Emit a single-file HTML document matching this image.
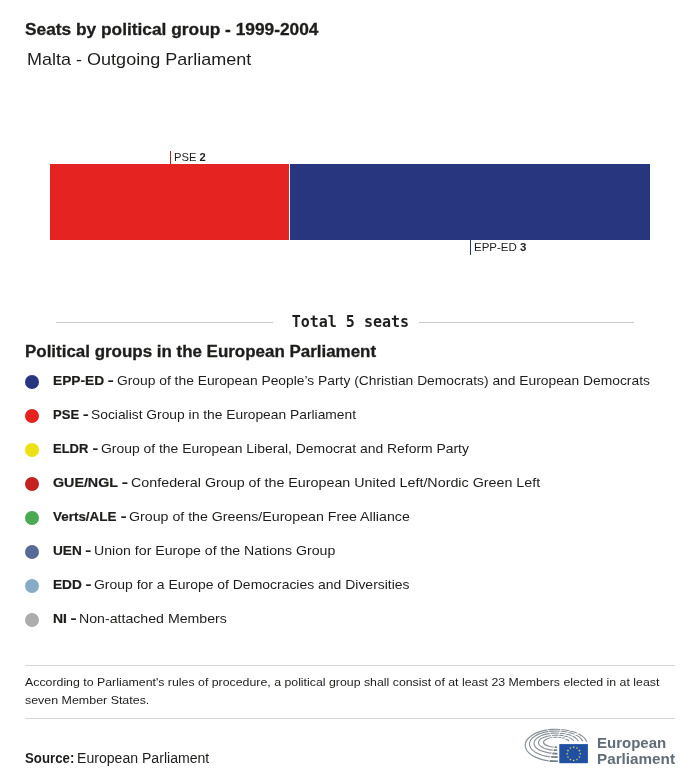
<!DOCTYPE html>
<html lang="en"><head><meta charset="utf-8"><title>Seats by political group - 1999-2004</title>
<style>
html,body{margin:0;padding:0;background:#fff;}
body{width:700px;height:784px;position:relative;overflow:hidden;font-family:"Liberation Sans",sans-serif;color:#1d1d1b;}
.t{position:absolute;white-space:nowrap;line-height:20px;transform-origin:0 0;}
.bar{position:absolute;top:164px;height:76px;}
.dot{position:absolute;left:25px;width:14px;height:14px;border-radius:50%;}
.hr{position:absolute;height:1px;background:#c9c9c9;}
.tick{position:absolute;width:1px;}
b{font-weight:bold;}
</style></head><body>
<div class="t" id="title" style='left:25.0px;top:20.0px;font-size:16px;font-weight:bold;transform:scaleX(1.0820);-webkit-text-stroke:0.3px #1d1d1b;'>Seats by political group - 1999-2004</div>
<div class="t" id="sub" style='left:26.7px;top:50.0px;font-size:17px;transform:scaleX(1.0600);'>Malta - Outgoing Parliament</div>
<div class="bar" style="left:50px;width:239px;background:#e52421;"></div>
<div class="bar" style="left:290px;width:360px;background:#27367f;"></div>
<div class="tick" style="left:170px;top:151px;height:13px;background:#b5201e;"></div>
<div class="tick" style="left:470px;top:240px;height:15px;background:#27367f;"></div>
<div class="t" id="l1" style='left:174.1px;top:147.0px;font-size:11px;transform:scaleX(1.0189);'>PSE <b>2</b></div>
<div class="t" id="l2" style='left:474.1px;top:237.0px;font-size:11px;transform:scaleX(1.0443);'>EPP-ED <b>3</b></div>
<div class="hr" style="left:56px;width:217px;top:322px;"></div>
<div class="hr" style="left:419px;width:215px;top:322px;"></div>
<div class="t" id="total" style='left:291.7px;top:311.6px;font-size:15px;font-weight:bold;letter-spacing:-0.006px;font-family:"DejaVu Sans Mono","Liberation Mono",monospace;'>Total 5 seats</div>
<div class="t" id="pg" style='left:24.6px;top:342.4px;font-size:16px;font-weight:bold;transform:scaleX(1.0586);-webkit-text-stroke:0.3px #1d1d1b;'>Political groups in the European Parliament</div>
<div class="dot" style="top:375px;background:#27367f;"></div>
<div class="t" id="b0" style='left:53.0px;top:371.0px;font-size:13.5px;font-weight:bold;transform:scaleX(1.0162);-webkit-text-stroke:0.2px #1d1d1b;'>EPP-ED <span style="display:inline-block;transform:scaleX(1.3);transform-origin:0 50%">-</span></div>
<div class="t" id="r0" style='left:116.7px;top:371.0px;font-size:13.5px;transform:scaleX(1.0238);'>Group of the European People’s Party (Christian Democrats) and European Democrats</div>
<div class="dot" style="top:409px;background:#e52421;"></div>
<div class="t" id="b1" style='left:53.0px;top:405.0px;font-size:13.5px;font-weight:bold;transform:scaleX(0.9650);-webkit-text-stroke:0.2px #1d1d1b;'>PSE <span style="display:inline-block;transform:scaleX(1.3);transform-origin:0 50%">-</span></div>
<div class="t" id="r1" style='left:90.9px;top:405.0px;font-size:13.5px;transform:scaleX(1.0239);'>Socialist Group in the European Parliament</div>
<div class="dot" style="top:443px;background:#ece114;"></div>
<div class="t" id="b2" style='left:53.1px;top:439.0px;font-size:13.5px;font-weight:bold;transform:scaleX(0.9617);-webkit-text-stroke:0.2px #1d1d1b;'>ELDR <span style="display:inline-block;transform:scaleX(1.3);transform-origin:0 50%">-</span></div>
<div class="t" id="r2" style='left:100.7px;top:439.0px;font-size:13.5px;transform:scaleX(1.0301);'>Group of the European Liberal, Democrat and Reform Party</div>
<div class="dot" style="top:477px;background:#c4211f;"></div>
<div class="t" id="b3" style='left:53.3px;top:473.0px;font-size:13.5px;font-weight:bold;transform:scaleX(1.0562);-webkit-text-stroke:0.2px #1d1d1b;'>GUE/NGL <span style="display:inline-block;transform:scaleX(1.3);transform-origin:0 50%">-</span></div>
<div class="t" id="r3" style='left:130.7px;top:473.0px;font-size:13.5px;transform:scaleX(1.0587);'>Confederal Group of the European United Left/Nordic Green Left</div>
<div class="dot" style="top:511px;background:#4aa953;"></div>
<div class="t" id="b4" style='left:52.7px;top:507.0px;font-size:13.5px;font-weight:bold;transform:scaleX(0.9948);-webkit-text-stroke:0.2px #1d1d1b;'>Verts/ALE <span style="display:inline-block;transform:scaleX(1.3);transform-origin:0 50%">-</span></div>
<div class="t" id="r4" style='left:128.7px;top:507.0px;font-size:13.5px;transform:scaleX(1.0510);'>Group of the Greens/European Free Alliance</div>
<div class="dot" style="top:545px;background:#586a96;"></div>
<div class="t" id="b5" style='left:53.1px;top:541.0px;font-size:13.5px;font-weight:bold;transform:scaleX(1.0095);-webkit-text-stroke:0.2px #1d1d1b;'>UEN <span style="display:inline-block;transform:scaleX(1.3);transform-origin:0 50%">-</span></div>
<div class="t" id="r5" style='left:93.9px;top:541.0px;font-size:13.5px;transform:scaleX(1.0472);'>Union for Europe of the Nations Group</div>
<div class="dot" style="top:579px;background:#85abc6;"></div>
<div class="t" id="b6" style='left:53.0px;top:575.0px;font-size:13.5px;font-weight:bold;transform:scaleX(1.0122);-webkit-text-stroke:0.2px #1d1d1b;'>EDD <span style="display:inline-block;transform:scaleX(1.3);transform-origin:0 50%">-</span></div>
<div class="t" id="r6" style='left:93.9px;top:575.0px;font-size:13.5px;transform:scaleX(1.0333);'>Group for a Europe of Democracies and Diversities</div>
<div class="dot" style="top:613px;background:#acacac;"></div>
<div class="t" id="b7" style='left:53.0px;top:608.7px;font-size:13.5px;font-weight:bold;transform:scaleX(1.0345);-webkit-text-stroke:0.2px #1d1d1b;'>NI <span style="display:inline-block;transform:scaleX(1.3);transform-origin:0 50%">-</span></div>
<div class="t" id="r7" style='left:79.4px;top:608.7px;font-size:13.5px;transform:scaleX(1.0485);'>Non-attached Members</div>
<div class="hr" style="left:25px;width:650px;top:665px;background:#d6d6d6;"></div>
<div class="t" id="note1" style='left:24.9px;top:672.0px;font-size:11.5px;transform:scaleX(1.0724);'>According to Parliament's rules of procedure, a political group shall consist of at least 23 Members elected in at least</div>
<div class="t" id="note2" style='left:24.7px;top:690.3px;font-size:11.5px;transform:scaleX(1.0804);'>seven Member States.</div>
<div class="hr" style="left:25px;width:650px;top:718px;background:#d6d6d6;"></div>
<div class="t" id="srcb" style='left:25.4px;top:747.5px;font-size:14px;font-weight:bold;transform:scaleX(0.9456);'>Source:</div>
<div class="t" id="srcr" style='left:77.4px;top:747.5px;font-size:14px;transform:scaleX(1.0056);'>European Parliament</div>
<svg style="position:absolute;left:520px;top:724px;" width="75" height="45" viewBox="520 724 75 45">
<g fill="none" stroke-linecap="butt">
<path d="M557.76 761.28 A31.20 16.05 0 1 1 586.92 741.91" stroke-width="1.1" stroke="#878f96"/>
<path d="M557.76 761.28 A31.20 16.05 0 0 1 549.14 760.86" stroke-width="1.6" stroke="#767f87"/>
<path d="M557.57 757.09 A26.90 13.05 0 1 1 582.71 741.34" stroke-width="1.1" stroke="#878f96"/>
<path d="M557.57 757.09 A26.90 13.05 0 0 1 550.66 756.80" stroke-width="1.6" stroke="#767f87"/>
<path d="M557.38 753.59 A22.40 10.30 0 1 1 578.31 741.16" stroke-width="1.1" stroke="#878f96"/>
<path d="M557.38 753.59 A22.40 10.30 0 0 1 551.94 753.39" stroke-width="1.6" stroke="#767f87"/>
<path d="M557.18 750.29 A17.90 7.60 0 1 1 573.91 741.12" stroke-width="1.1" stroke="#878f96"/>
<path d="M557.18 750.29 A17.90 7.60 0 0 1 553.15 750.17" stroke-width="1.6" stroke="#767f87"/>
<path d="M556.96 747.30 A12.90 5.05 0 1 1 569.02 741.20" stroke-width="1.1" stroke="#878f96"/>
<path d="M556.96 747.30 A12.90 5.05 0 0 1 554.25 747.23" stroke-width="1.6" stroke="#767f87"/>
</g>
<g stroke="#fff" stroke-width="0.9">
<line x1="554.14" y1="739.36" x2="545.32" y2="726.13"/>
<line x1="557.14" y1="739.54" x2="561.82" y2="727.12"/>
<line x1="558.98" y1="739.88" x2="571.94" y2="728.99"/>
<line x1="560.58" y1="740.48" x2="580.74" y2="732.29"/>
<line x1="554.60" y1="746.30" x2="547.85" y2="764.30"/>
</g>
<rect x="558.4" y="743.2" width="30.3" height="20.8" fill="#fff"/>
<rect x="559.3" y="744.1" width="28.6" height="19.1" fill="#2050a2"/>
<g fill="#fbe052">
<polygon points="573.70,746.00 573.98,746.81 574.84,746.83 574.16,747.35 574.41,748.17 573.70,747.68 572.99,748.17 573.24,747.35 572.56,746.83 573.42,746.81"/>
<polygon points="577.00,746.88 577.28,747.70 578.14,747.71 577.46,748.23 577.71,749.06 577.00,748.56 576.29,749.06 576.54,748.23 575.86,747.71 576.72,747.70"/>
<polygon points="579.42,749.30 579.70,750.11 580.56,750.13 579.87,750.65 580.12,751.47 579.42,750.98 578.71,751.47 578.96,750.65 578.27,750.13 579.13,750.11"/>
<polygon points="580.30,752.60 580.58,753.41 581.44,753.43 580.76,753.95 581.01,754.77 580.30,754.28 579.59,754.77 579.84,753.95 579.16,753.43 580.02,753.41"/>
<polygon points="579.42,755.90 579.70,756.71 580.56,756.73 579.87,757.25 580.12,758.07 579.42,757.58 578.71,758.07 578.96,757.25 578.27,756.73 579.13,756.71"/>
<polygon points="577.00,758.32 577.28,759.13 578.14,759.14 577.46,759.66 577.71,760.49 577.00,760.00 576.29,760.49 576.54,759.66 575.86,759.14 576.72,759.13"/>
<polygon points="573.70,759.20 573.98,760.01 574.84,760.03 574.16,760.55 574.41,761.37 573.70,760.88 572.99,761.37 573.24,760.55 572.56,760.03 573.42,760.01"/>
<polygon points="570.40,758.32 570.68,759.13 571.54,759.14 570.86,759.66 571.11,760.49 570.40,760.00 569.69,760.49 569.94,759.66 569.26,759.14 570.12,759.13"/>
<polygon points="567.98,755.90 568.27,756.71 569.13,756.73 568.44,757.25 568.69,758.07 567.98,757.58 567.28,758.07 567.53,757.25 566.84,756.73 567.70,756.71"/>
<polygon points="567.10,752.60 567.38,753.41 568.24,753.43 567.56,753.95 567.81,754.77 567.10,754.28 566.39,754.77 566.64,753.95 565.96,753.43 566.82,753.41"/>
<polygon points="567.98,749.30 568.27,750.11 569.13,750.13 568.44,750.65 568.69,751.47 567.98,750.98 567.28,751.47 567.53,750.65 566.84,750.13 567.70,750.11"/>
<polygon points="570.40,746.88 570.68,747.70 571.54,747.71 570.86,748.23 571.11,749.06 570.40,748.56 569.69,749.06 569.94,748.23 569.26,747.71 570.12,747.70"/>
</g>
</svg>
<div class="t" id="lg1" style='left:596.5px;top:733.0px;font-size:14px;font-weight:bold;transform:scaleX(1.0723);color:#616d77;'>European</div>
<div class="t" id="lg2" style='left:596.8px;top:749.3px;font-size:14px;font-weight:bold;transform:scaleX(1.0892);color:#616d77;'>Parliament</div>
</body></html>
